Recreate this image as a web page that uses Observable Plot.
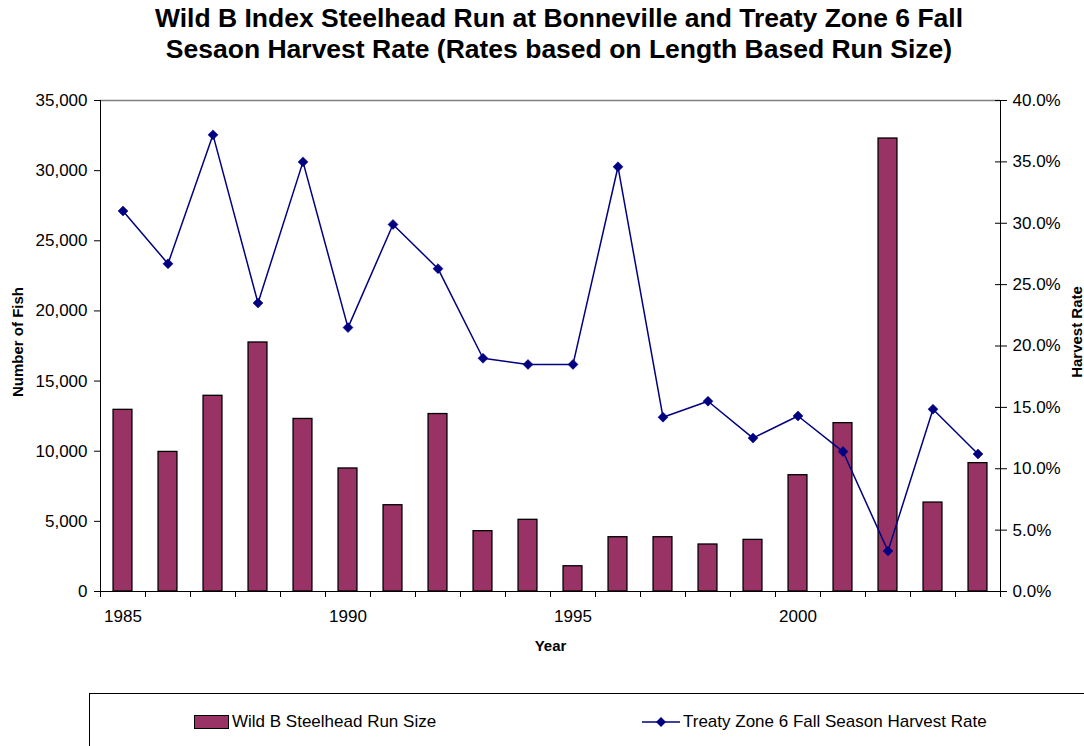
<!DOCTYPE html>
<html>
<head>
<meta charset="utf-8">
<script src="https://cdn.jsdelivr.net/npm/d3@7"></script>
<script src="https://cdn.jsdelivr.net/npm/@observablehq/plot@0.6"></script>
<style>
  body { margin: 0; background: #fff; font-family: "Liberation Sans", Arial, sans-serif; }
  #wrap { position: relative; width: 1084px; height: 746px; overflow: hidden; }
  #title { position: absolute; left: 34px; top: 3px; width: 1050px; text-align: center;
           font-weight: bold; font-size: 26.5px; line-height: 31px; color: #000; }
  #chart { position: absolute; left: 0; top: 80px; }
  #legend { position: absolute; left: 89px; top: 693px; width: 1100px; height: 100px;
            border-top: 1.5px solid #000; border-left: 1.5px solid #000; font-size: 17px; }
  .item { position: absolute; top: 18px; display: flex; align-items: center; height: 20px; }
  .sw { width: 33px; height: 12px; background: #993366; border: 1.5px solid #000; margin-right: 3px; }
</style>
</head>
<body>
<div id="wrap">
  <div id="title">Wild B Index Steelhead Run at Bonneville and Treaty Zone 6 Fall<br>Sesaon Harvest Rate (Rates based on Length Based Run Size)</div>
  <div id="chart"></div>
  <div id="legend">
    <div class="item" style="left:104px"><div class="sw"></div><span>Wild B Steelhead Run Size</span></div>
    <div class="item" style="left:552px">
      <svg width="38" height="14" style="margin-right:3px"><line x1="0" y1="7" x2="38" y2="7" stroke="#000080" stroke-width="1.5"/><path d="M19,2 L24,7 L19,12 L14,7 Z" fill="#000080"/></svg>
      <span>Treaty Zone 6 Fall Season Harvest Rate</span>
    </div>
  </div>
</div>
<script>
const years = [1985,1986,1987,1988,1989,1990,1991,1992,1993,1994,1995,1996,1997,1998,1999,2000,2001,2002,2003,2004];
const runSize = [12950,9950,13950,17750,12300,8770,6150,12650,4300,5110,1800,3870,3870,3350,3680,8290,12000,32290,6340,9150];
const harvestRate = [31.0,26.7,37.2,23.5,35.0,21.5,29.9,26.3,19.0,18.5,18.5,34.6,14.2,15.5,12.5,14.3,11.4,3.3,14.85,11.2];
const yearLabels = [1985,1990,1995,2000];
const leftTicks = [0,5000,10000,15000,20000,25000,30000,35000];
const rightTicks = [0,5,10,15,20,25,30,35,40];

const SCALE = 35000 / 40;
const data = years.map((year, i) => ({year, run: runSize[i], rate: harvestRate[i]}));
const boundaries = years.map(y => y - 0.5).concat([years[years.length - 1] + 0.5]);
const xMin = years[0] - 0.5, xMax = years[years.length - 1] + 0.5;

const chart = Plot.plot({
  width: 1084, height: 620,
  marginTop: 20, marginBottom: 109, marginLeft: 100, marginRight: 84,
  x: {domain: [xMin, xMax]},
  y: {domain: [0, 35000]},
  style: {fontFamily: "'Liberation Sans', Arial, sans-serif", fontSize: "17px", color: "#000", background: "#fff"},
  marks: [
    Plot.ruleY([35000], {stroke: "#808080", strokeWidth: 1.5}),
    Plot.rectY(data, {x1: d => d.year - 0.21, x2: d => d.year + 0.21, y: "run", fill: "#993366", stroke: "#000", strokeWidth: 1.3}),
    Plot.line(data, {x: "year", y: d => d.rate * SCALE, stroke: "#000080", strokeWidth: 1.5}),
    Plot.dot(data, {x: "year", y: d => d.rate * SCALE, symbol: "diamond2", r: 4.5, fill: "#000080", stroke: "#000080", strokeWidth: 0.5}),
    Plot.ruleX([xMin], {stroke: "#000", strokeWidth: 1}),
    Plot.ruleX([xMax], {stroke: "#000", strokeWidth: 1}),
    Plot.ruleY([0], {stroke: "#000", strokeWidth: 1}),
    Plot.axisY({ticks: leftTicks, tickFormat: d3.format(","), tickSize: 6, tickPadding: 7, label: null, fontSize: 17}),
    Plot.axisY({anchor: "right", ticks: rightTicks.map(t => t * SCALE), tickFormat: d => (d / SCALE).toFixed(1) + "%",
                tickSize: 12, insetRight: 6, tickPadding: 6, label: null, fontSize: 17}),
    Plot.axisX({ticks: boundaries, tickFormat: () => "", tickSize: 6, label: null}),
    Plot.axisX({ticks: yearLabels, tickFormat: d => String(d), tickSize: 0, tickPadding: 18, label: null, fontSize: 17}),
    Plot.text(["Year"], {frameAnchor: "bottom", dy: 59, fontWeight: "bold", fontSize: 15, fill: "#000"}),
    Plot.text(["Number of Fish"], {frameAnchor: "left", dx: -82.5, dy: -4, rotate: -90, textAnchor: "middle", fontWeight: "bold", fontSize: 15, fill: "#000"}),
    Plot.text(["Harvest Rate"], {frameAnchor: "right", dx: 77, dy: -14, rotate: -90, textAnchor: "middle", fontWeight: "bold", fontSize: 15, fill: "#000"})
  ]
});
document.getElementById("chart").appendChild(chart);
</script>
</body>
</html>
